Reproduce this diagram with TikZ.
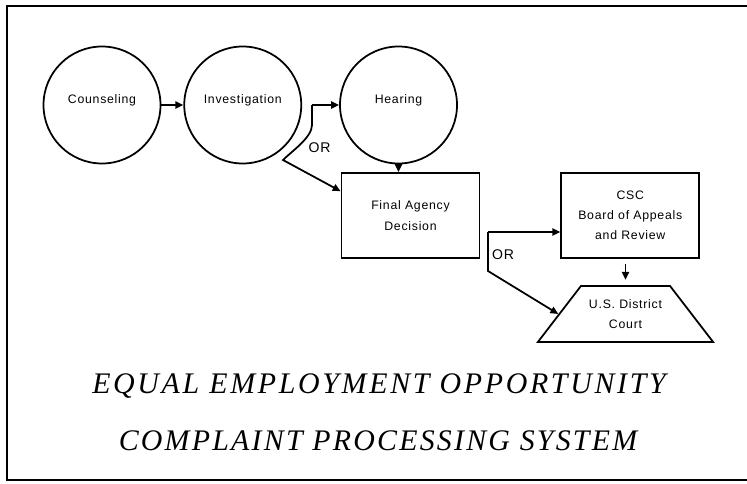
\documentclass[tikz,border=0pt]{standalone}
\usepackage{fontspec}
\setmainfont{Liberation Serif}
\setsansfont{Liberation Sans}
\newfontfamily\boxfont{Liberation Sans}[LetterSpace=6]
\newfontfamily\titlefont{Liberation Serif}[LetterSpace=9]
\usetikzlibrary{positioning,shapes.geometric,arrows.meta,calc}

\begin{document}
\begin{tikzpicture}[
	stage/.style={circle,draw,line width=1pt,minimum size=2.34cm,inner sep=0pt,text depth=0.25cm,font=\boxfont\fontsize{7}{11.5}\selectfont},
	office/.style={rectangle,draw,line width=1pt,minimum width=2.76cm,minimum height=1.7cm,align=center,font=\boxfont\fontsize{7}{11.5}\selectfont},
	court/.style={trapezium,trapezium angle=45,trapezium stretches=true,draw,line width=1pt,minimum width=3.52cm,minimum height=1.12cm,align=center,font=\boxfont\fontsize{7}{11.5}\selectfont},
	flow/.style={->,>={Triangle[length=4.5pt,width=4pt]},line width=1pt},
	orlabel/.style={font=\boxfont\fontsize{8}{9}\selectfont},
	heading/.style={font=\titlefont\itshape\fontsize{17}{20}\selectfont,anchor=base}
]
	\useasboundingbox (0,0) rectangle (14.94,9.66);
	\draw[line width=1.2pt] (14.94,9.54) -- (0.14,9.54) -- (0.14,0.06) -- (14.94,0.06);

	\node[stage] (couns) at (2.04,7.56) {Counseling};
	\node[stage,right=0.44cm of couns] (inv) {Investigation};
	\node[stage,right=0.74cm of inv] (hear) {Hearing};
	\node[office] (fad) at (8.21,5.35) {Final Agency\\Decision};
	\node[office,right=1.6cm of fad] (csc) {CSC\\Board of Appeals\\and Review};
	\node[court] (court) at (12.51,3.38) {U.S. District\\Court};

	\draw[flow] (couns) -- (inv);
	\draw[flow] (hear.south) -- (hear.south |- fad.north);

	% first choice
	\coordinate (fork1) at (6.24,7.56);
	\coordinate (bend1) at (5.66,6.46);
	\draw[flow] (fork1) -- (fork1 -| hear.west);
	\draw[flow] (fork1) -- ++(0,-0.4) to[out=-90,in=45,looseness=0.7] (bend1) -- ($(fad.north west)!0.22!(fad.south west)$);
	\node[orlabel] (or1) at (6.39,6.7) {OR};

	% second choice
	\coordinate (fork2) at (9.76,5.02);
	\draw[flow] (fork2) -- (fork2 -| csc.west);
	\draw[flow] (fork2) -- ++(0,-0.78) -- (court.west);
	\node[orlabel] (or2) at (10.06,4.56) {OR};

	\draw[flow,shorten <=3pt,shorten >=3pt] (court.north |- csc.south) -- (court.north);

	\node[heading] (line1) at (7.58,1.8) {EQUAL EMPLOYMENT OPPORTUNITY};
	\node[heading] (line2) at (7.56,0.66) {\addfontfeatures{LetterSpace=7.5}COMPLAINT PROCESSING SYSTEM};
\end{tikzpicture}
\end{document}
